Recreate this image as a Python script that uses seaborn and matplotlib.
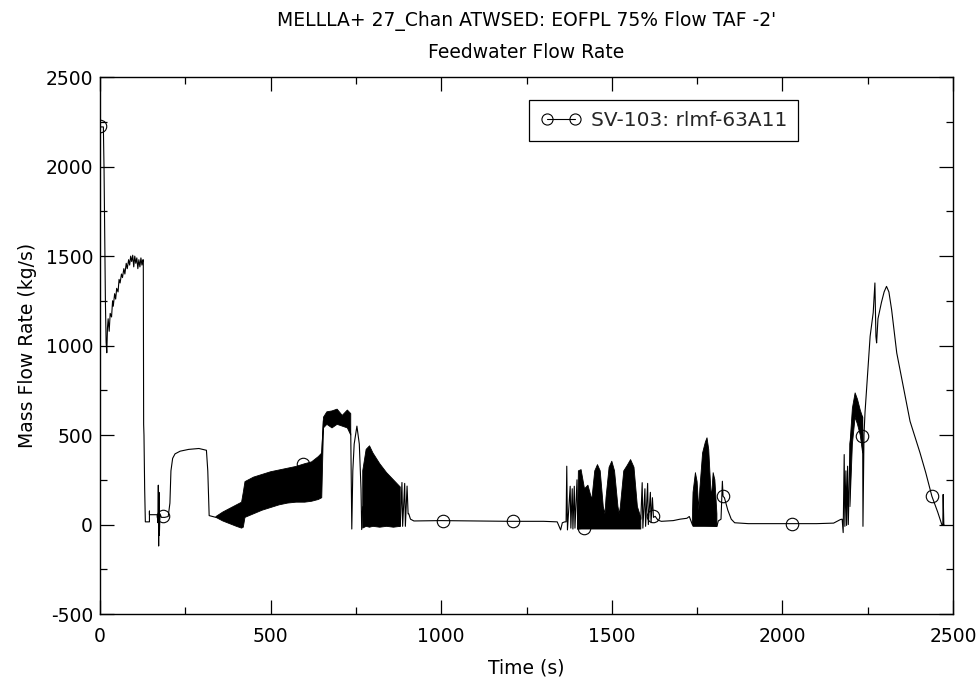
import matplotlib
matplotlib.use("Agg")
import matplotlib.pyplot as plt
import numpy as np
import seaborn as sns
from matplotlib.lines import Line2D
from matplotlib.ticker import MultipleLocator

nan = np.nan

# ---------------------------------------------------------------------------
# Data (time in s, flow in kg/s)
# ---------------------------------------------------------------------------

# main trace (single line, includes isolated spikes)
time_s = [
    0, 10, 12, 14, 16, 18, 20, 22, 24, 27, 30, 34, 37, 39, 43, 46, 49, 53,
    56, 59, 63, 66, 70, 73, 77, 80, 84, 87, 90, 93, 96, 99, 102, 105, 108,
    111, 114, 117, 120, 123, 126, 127, 128, 129, 131, 133, 145, 145, 145,
    168, 170, 171, 172, 173, 174, 176, 180, 190, 200, 205, 208, 213, 220,
    235, 260, 290, 312, 316, 320, 340,
    420, 425, 600, 645, 650, 655, 730, 735, 738, 741, 745, 753, 760, 765,
    767, 770,
    880, 885, 887, 893, 895, 900, 903, 905, 910, 920, 1000, 1100, 1200,
    1300, 1340, 1350, 1355, 1362, 1366, 1368, 1370, 1378, 1380, 1384, 1386,
    1390, 1392, 1398, 1400,
    1585, 1589, 1591, 1597, 1599, 1605, 1607, 1613, 1615, 1619, 1622, 1627,
    1635, 1645, 1680, 1700, 1720, 1727, 1732, 1736,
    1808, 1812, 1820, 1824, 1826, 1830, 1840, 1850, 1860, 1900, 2000, 2100,
    2150, 2170, 2175, 2178, 2181, 2183, 2186, 2188, 2191, 2193, 2196, 2198,
    2213, 2235, 2236, 2239, 2242, 2250, 2257, 2266, 2271, 2274, 2276, 2280,
    2290, 2298, 2305, 2312, 2320, 2335, 2354, 2374, 2390, 2403, 2420, 2438,
    2455, 2467, 2470, 2471, 2473, 2475,
]
flow_kgs = [
    2222, 2222, 1980, 1600, 1240, 1020, 960, 1100, 1150, 1080, 1180, 1160,
    1250, 1220, 1290, 1260, 1320, 1300, 1370, 1350, 1400, 1380, 1430, 1400,
    1460, 1430, 1480, 1450, 1500, 1470, 1505, 1440, 1500, 1460, 1490, 1430,
    1480, 1440, 1490, 1450, 1480, 1480, 560, 500, 200, 15, 15, 75, 55,
    55, 10, 220, -120, 180, -60, 60, 40, 40, 45, 120, 300, 370, 395,
    410, 420, 425, 415, 300, 50, 40,
    50, 150, 230, 260, 400, 580, 580, 500, -25, 300, 450, 550, 450, 200,
    -28, 100,
    -10, 235, -10, 230, -10, 215, 60, 60, 30, 20, 22, 20, 18,
    18, 15, -30, 10, 15, 15, 326, -30, 214, -20, 200, -25,
    214, -20, 250, -25,
    30, 234, -20, 200, -10, 230, 0, 180, 10, 150, 40, 46,
    25, 18, 22, 30, 35, 45, 20, 0,
    -10, 20, 30, 242, 158, 150, 80, 30, 10, 5, 5, 5,
    8, 28, 30, -45, 391, -10, 300, -5, 326, 0, 250, 450,
    650, 600, -10, 500, 626, 850, 1052, 1184, 1350, 1050, 1015, 1150,
    1240, 1300, 1331, 1300, 1200, 959, 773, 577, 480, 402, 290, 158,
    70, 0, -5, 168, 0, -5,
]

# dense oscillation regions (drawn as the filled envelope of the trace)
band_time = [
    340, 360, 380, 400, 415, 420, 425, 450, 475, 500, 525, 550, 575, 600,
    620, 640, 650, 655, 665, 680, 695, 710, 725, 735, nan,
    770, 780, 790, 800, 820, 840, 860, 880, nan,
    1400, 1402, 1410, 1420, 1430, 1440, 1442, 1450, 1458, 1466, 1475,
    1480, 1483, 1492, 1500, 1508, 1518, 1522, 1525, 1535, 1545, 1555,
    1565, 1575, 1585, nan,
    1736, 1738, 1745, 1750, 1755, 1758, 1766, 1774, 1779, 1784, 1790,
    1792, 1797, 1802, 1808, nan,
    2198, 2205, 2213, 2220, 2228, 2235,
]
band_low = [
    40, 20, 5, -10, -20, -15, 40, 60, 80, 95, 110, 120, 125, 125,
    130, 140, 150, 540, 560, 540, 560, 550, 540, 500, nan,
    -20, -10, -15, -10, -15, -10, -15, -10, nan,
    -25, -25, -25, -25, -25, -25, -25, -25, -25, -25, -25,
    -25, -25, -25, -25, -25, -25, -25, -25, -25, -25, -25,
    -25, -25, -25, nan,
    0, -10, -10, -10, -10, -10, -10, -10, -10, -10, -10,
    -10, -10, -10, -10, nan,
    100, 450, 600, 560, 500, 400,
]
band_high = [
    45, 70, 90, 110, 125, 180, 240, 265, 280, 295, 305, 315, 325, 340,
    350, 380, 400, 600, 630, 635, 645, 610, 640, 620, nan,
    300, 420, 440, 400, 340, 290, 250, 210, nan,
    40, 300, 307, 200, 220, 150, 150, 300, 335, 300, 100,
    60, 150, 320, 354, 300, 100, 60, 100, 300, 330, 363, 320,
    100, 40, nan,
    30, 180, 290, 240, 80, 200, 400, 460, 485, 420, 200,
    150, 290, 250, 60, nan,
    450, 650, 736, 700, 640, 600,
]

# plotted symbols along the trace
marker_time = [0, 186, 595, 1005, 1210, 1418, 1621, 1826, 2028, 2233, 2438]
marker_flow = [2225, 45, 340, 22, 18, -22, 46, 158, 3, 497, 158]

series_label = "SV-103: rlmf-63A11"
title = "MELLLA+ 27_Chan ATWSED: EOFPL 75% Flow TAF -2'\nFeedwater Flow Rate"

# ---------------------------------------------------------------------------
# Plot
# ---------------------------------------------------------------------------

sns.set_theme(style="ticks")
plt.rcParams["font.family"] = ["DejaVu Sans"]
plt.rcParams["axes.unicode_minus"] = False

fig = plt.figure(figsize=(9.8, 6.83), dpi=100)
ax = fig.add_axes([0.102, 0.101, 0.8705, 0.786])

sns.lineplot(x=time_s, y=flow_kgs, sort=False, estimator=None,
             color="black", linewidth=0.8, ax=ax)
ax.fill_between(band_time, band_low, band_high, color="black",
                linewidth=0.6, edgecolor="black")
ax.plot(marker_time, marker_flow, linestyle="none", marker="o",
        markersize=9, markerfacecolor="none", markeredgecolor="black",
        markeredgewidth=0.8)

ax.set_xlim(0, 2500)
ax.set_ylim(-500, 2500)
ax.xaxis.set_major_locator(MultipleLocator(500))
ax.xaxis.set_minor_locator(MultipleLocator(250))
ax.yaxis.set_major_locator(MultipleLocator(500))
ax.yaxis.set_minor_locator(MultipleLocator(250))
ax.tick_params(which="both", direction="in", top=True, right=True,
               colors="black", labelsize=13.5, width=0.9)
ax.tick_params(which="major", length=10)
ax.tick_params(which="minor", length=5)
ax.tick_params(axis="x", which="major", pad=9)
ax.tick_params(axis="y", which="major", pad=5)
for spine in ax.spines.values():
    spine.set_color("black")
    spine.set_linewidth(1.0)

ax.set_xlabel("Time (s)", fontsize=13.5, color="black", labelpad=9)
ax.set_ylabel("Mass Flow Rate (kg/s)", fontsize=13.5, color="black",
              labelpad=6)
ax.set_title(title, fontsize=13.5, color="black", linespacing=1.75, pad=14)

handle = Line2D([0], [0], color="black", linewidth=0.8, marker="o",
                markersize=8, markerfacecolor="none", markeredgewidth=0.8)
leg = ax.legend([handle], [series_label], loc="upper center",
                bbox_to_anchor=(0.661, 0.976), numpoints=2, fontsize=14.5,
                fancybox=False, framealpha=1, edgecolor="black",
                handlelength=2.0, handletextpad=0.5, borderpad=0.55)
leg.get_frame().set_linewidth(0.9)

fig.savefig("out.png", dpi=100)
plt.close(fig)
